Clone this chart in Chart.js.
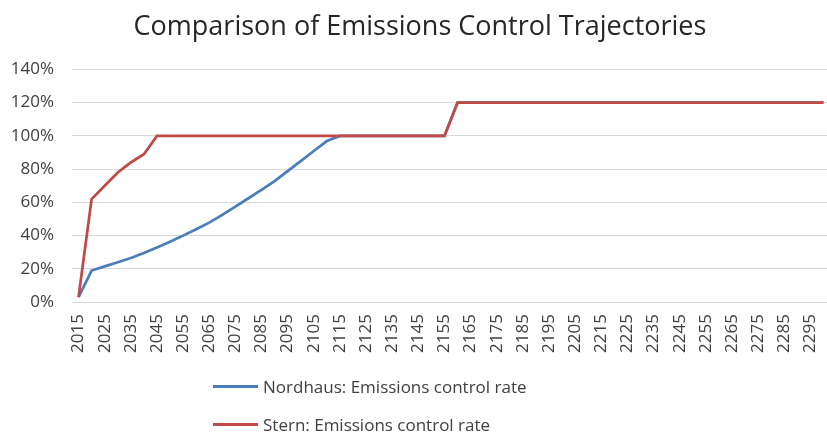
<!DOCTYPE html>
<html>
<head>
<meta charset="utf-8">
<script src="https://cdn.jsdelivr.net/npm/chart.js@4"></script>
<style>
  html, body { margin: 0; padding: 0; background: #fff; overflow: hidden; }
  #wrap { position: relative; width: 840px; height: 432px; }
  #legend { position: absolute; left: 213px; top: 367px; font-family: "Open Sans", sans-serif; font-size: 17px; color: #404040; }
  #legend .item { height: 38px; display: flex; align-items: center; }
  #legend .swatch { width: 45px; height: 3px; margin-right: 5px; }
</style>
</head>
<body>
<div id="wrap">
  <canvas id="chart" width="840" height="432"></canvas>
  <div id="legend"></div>
</div>
<script>
var years = ['2015','2020','2025','2030','2035','2040','2045','2050','2055','2060',
  '2065','2070','2075','2080','2085','2090','2095','2100','2105','2110',
  '2115','2120','2125','2130','2135','2140','2145','2150','2155','2160',
  '2165','2170','2175','2180','2185','2190','2195','2200','2205','2210',
  '2215','2220','2225','2230','2235','2240','2245','2250','2255','2260',
  '2265','2270','2275','2280','2285','2290','2295','2300'];

// emissions control rate, percent
var nordhaus = [3, 19, 21.5, 24, 26.5, 29.5, 32.8, 36.3, 40, 43.8,
  47.8, 52.5, 57.5, 62.5, 67.5, 72.8, 78.8, 84.8, 90.9, 96.9,
  100, 100, 100, 100, 100, 100, 100, 100, 100, 120,
  120, 120, 120, 120, 120, 120, 120, 120, 120, 120,
  120, 120, 120, 120, 120, 120, 120, 120, 120, 120,
  120, 120, 120, 120, 120, 120, 120, 120];

var stern = [3, 62, 70, 78, 84, 89, 100, 100, 100, 100,
  100, 100, 100, 100, 100, 100, 100, 100, 100, 100,
  100, 100, 100, 100, 100, 100, 100, 100, 100, 120,
  120, 120, 120, 120, 120, 120, 120, 120, 120, 120,
  120, 120, 120, 120, 120, 120, 120, 120, 120, 120,
  120, 120, 120, 120, 120, 120, 120, 120];

var seriesNames = ['Nordhaus: Emissions control rate', 'Stern: Emissions control rate'];
var colors = ['#4a7ebb', '#be4b48'];
var font = '"Open Sans", sans-serif';

var chart = new Chart(document.getElementById('chart'), {
  type: 'line',
  data: {
    labels: years,
    datasets: [
      { label: seriesNames[0], data: nordhaus, borderColor: colors[0], backgroundColor: colors[0],
        borderWidth: 2.75, pointRadius: 0, tension: 0, order: 1 },
      { label: seriesNames[1], data: stern, borderColor: colors[1], backgroundColor: colors[1],
        borderWidth: 2.75, pointRadius: 0, tension: 0, order: 0 }
    ]
  },
  options: {
    responsive: false,
    animation: false,
    layout: { padding: { left: 10, right: 10, top: 0, bottom: 67 } },
    plugins: {
      legend: { display: false },
      tooltip: { enabled: false },
      title: {
        display: true,
        text: 'Comparison of Emissions Control Trajectories',
        color: '#262626',
        font: { family: font, size: 27, weight: 'normal' },
        padding: { top: 11, bottom: 26 }
      }
    },
    scales: {
      x: {
        offset: true,
        grid: { display: false, drawTicks: false },
        border: { display: false },
        ticks: {
          autoSkip: false, maxRotation: 90, minRotation: 90, padding: 12,
          color: '#404040', font: { family: font, size: 17 },
          callback: function(v, i) { return i % 2 === 0 ? years[i] : ''; }
        },
        afterFit: function(scale) { scale.paddingLeft = 0; scale.paddingRight = 0; }
      },
      y: {
        min: 0, max: 140,
        grid: { color: '#d9d9d9', lineWidth: 1, drawTicks: false },
        border: { display: false },
        ticks: {
          stepSize: 20, padding: 18,
          color: '#404040', font: { family: font, size: 17 },
          callback: function(v) { return v + '%'; }
        },
        afterFit: function(scale) { scale.width = 62; }
      }
    }
  }
});

// legend stacked vertically, as in the original
var legend = document.getElementById('legend');
chart.data.datasets.forEach(function(ds) {
  var item = document.createElement('div');
  item.className = 'item';
  var sw = document.createElement('span');
  sw.className = 'swatch';
  sw.style.background = ds.borderColor;
  item.appendChild(sw);
  item.appendChild(document.createTextNode(ds.label));
  legend.appendChild(item);
});
</script>
</body>
</html>
